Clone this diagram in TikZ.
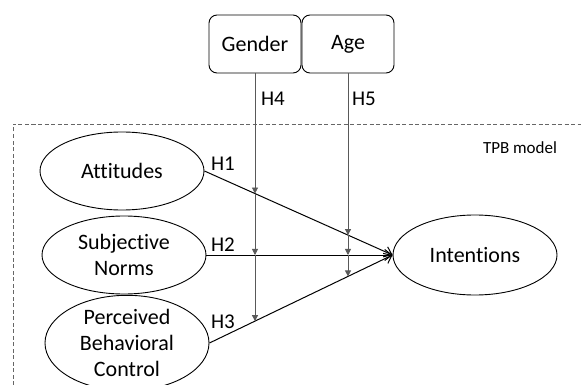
\documentclass[tikz,border=0pt]{standalone}
\usepackage{fontspec}
\setmainfont[Ligatures=NoCommon]{Carlito}
\usetikzlibrary{shapes.geometric,arrows.meta,intersections}
\begin{document}
\begin{tikzpicture}[x=1pt,y=-1pt,
  ell/.style={draw=black,line width=0.9pt,ellipse,inner sep=0pt,minimum width=164pt,minimum height=78pt,align=center,font=\fontsize{22}{26}\selectfont},
  modbox/.style={draw=black,line width=0.9pt,rounded corners=8pt,minimum width=92pt,minimum height=58pt,inner sep=0pt,font=\fontsize{22}{26}\selectfont},
  lab/.style={inner sep=0pt,font=\fontsize{21}{25}\selectfont},
  mainarrow/.style={draw=black,line width=1pt,-{Straight Barb[length=7pt,width=11pt,line width=1pt]}},
  modarrow/.style={draw=black!65,line width=0.8pt,-{Triangle[length=6pt,width=6pt]}},
  frame/.style={draw=black!60,line width=0.8pt,dash pattern=on 4pt off 2.5pt}]
\useasboundingbox (0,0) rectangle (581,385);
\draw[frame] (13,385) -- (13,124) -- (581,124);
\node[font=\fontsize{17}{20}\selectfont,inner sep=0pt] (tpb) at (520,148) {TPB model};
\node[modbox] (gen) at (255,44) {Gender};
\node[modbox] (age) at (348,44) {Age};
\node[ell] (att) at (122,171) {Attitudes};
\node[ell] (sn) at (124,255) {Subjective\\Norms};
\node[ell,minimum height=82pt] (pbc) at (127,343) {Perceived\\Behavioral\\Control};
\node[ell,minimum height=80pt] (int) at (475,255) {Intentions};
\draw[mainarrow,name path=pA] (att.east) -- (int.west);
\draw[mainarrow,name path=pS] (sn.east) -- (int.west);
\draw[mainarrow,name path=pP] (pbc.east) -- (int.west);
\node[lab] (h1) at (223,164) {H1};
\node[lab] (h2) at (223,245) {H2};
\node[lab] (h3) at (223,322) {H3};
\node[lab] (h4) at (273,99) {H4};
\node[lab] (h5) at (364,99) {H5};
\path[name path=vG] (gen.south) -- ++(0,320);
\path[name path=vA] (age.south) -- ++(0,320);
\path[name intersections={of=vG and pA,by=gA}];
\path[name intersections={of=vG and pS,by=gS}];
\path[name intersections={of=vG and pP,by=gP}];
\path[name intersections={of=vA and pA,by=aA}];
\path[name intersections={of=vA and pS,by=aS}];
\path[name intersections={of=vA and pP,by=aP}];
\draw[modarrow] (gen.south) -- (gA);
\draw[modarrow] (gA) -- (gS);
\draw[modarrow] (gS) -- (gP);
\draw[modarrow] (age.south) -- (aA);
\draw[modarrow] (aA) -- (aS);
\draw[modarrow] (aS) -- (aP);
\end{tikzpicture}
\end{document}
